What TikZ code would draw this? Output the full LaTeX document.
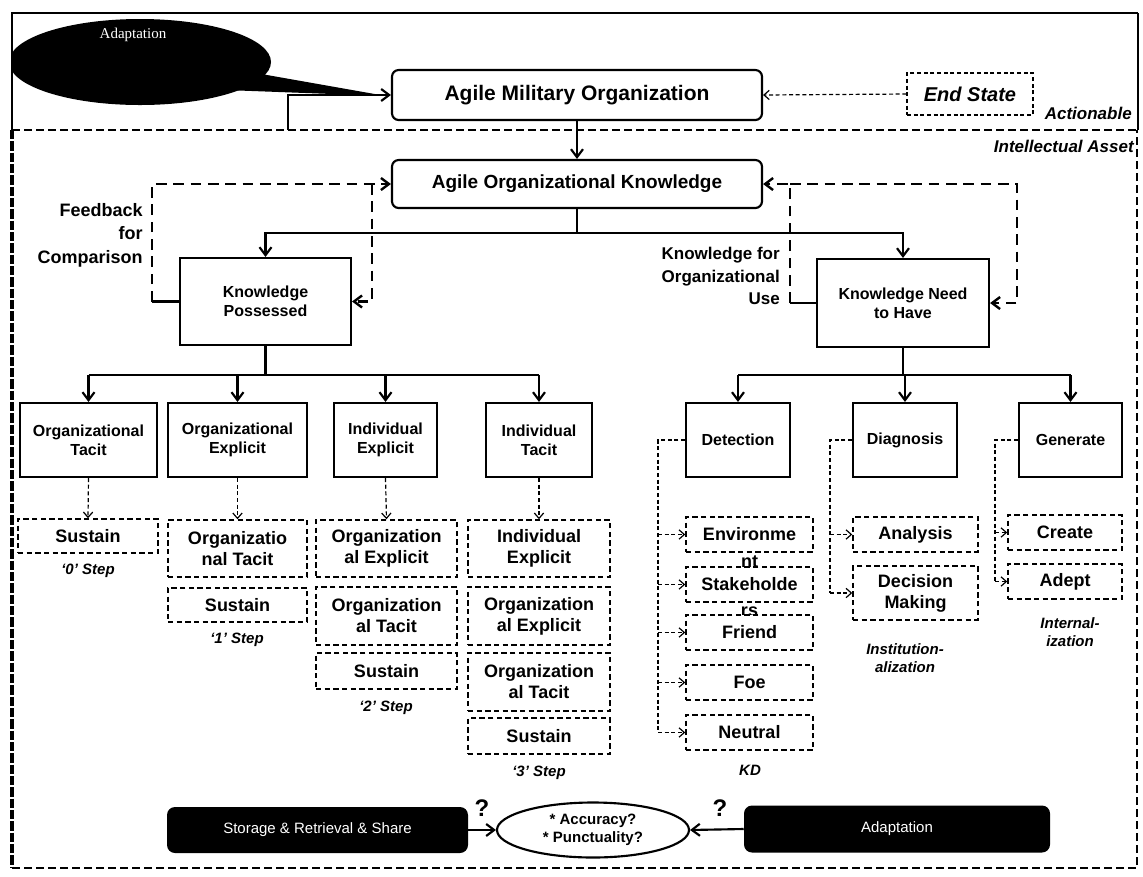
\documentclass[tikz,border=0pt]{standalone}
\usepackage{fontspec}
\setmainfont{Liberation Sans}
\newfontfamily\serifA{Liberation Serif}
\usetikzlibrary{arrows.meta,shapes.geometric,calc}
\newcommand{\fpx}[1]{\fontsize{\dimexpr #1pt*3/4\relax}{\dimexpr #1pt*7/8\relax}\selectfont}
\newcommand{\fpxb}[2]{\fontsize{\dimexpr #1pt*3/4\relax}{\dimexpr #2pt*3/4\relax}\selectfont}
\tikzset{
 wh/.style 2 args={minimum width=#1*0.75pt, minimum height=#2*0.75pt},
 sbox/.style={draw, line width=1.6pt, fill=white, align=center, inner sep=1pt, font=\fpx{16}\bfseries},
 rbox/.style={sbox, rounded corners=5pt, font=\fpx{19}\bfseries},
 dbox/.style={draw, line width=1.1pt, dash pattern=on 4pt off 2.5pt, fill=white, align=center, inner sep=1pt, font=\fpx{18}\bfseries},
 arr/.style={line width=1.6pt, -{Straight Barb[length=6pt,width=9pt]}},
 darr/.style={line width=0.9pt, dash pattern=on 3pt off 2pt, -{Straight Barb[length=4pt,width=7pt]}},
 dline/.style={line width=0.9pt, dash pattern=on 3pt off 2pt},
 dloop/.style={line width=1.8pt, dash pattern=on 8pt off 5pt},
 dloopa/.style={dloop, -{Straight Barb[length=6pt,width=9pt]}},
 steplbl/.style={font=\fpx{15}\bfseries\itshape, inner sep=0pt},
 sidelbl/.style={align=right, inner sep=0pt},
 blackbox/.style={fill=black, rounded corners=6pt, text=white, font=\fpx{15}},
}
\begin{document}
\begin{tikzpicture}[x=0.75pt,y=-0.75pt]
\useasboundingbox (0,0) rectangle (1143,876);
% ---------- frames ----------
\draw[line width=2pt] (12,130) -- (12,13) -- (1138,13);
\draw[line width=0.8pt] (1138,13) -- (1138,130);
\draw[line width=1.8pt, dash pattern=on 6pt off 3pt] (12,130) -- (1137,130);
\draw[line width=3pt, dash pattern=on 7pt off 1.5pt] (12,130) -- (12,868);
\draw[line width=1.8pt, dash pattern=on 6pt off 3pt] (12,868) -- (1137,868) -- (1137,130);
\node[anchor=east, font=\fpx{17}\bfseries\itshape, inner sep=0pt] (actl) at (1132,113) {Actionable};
\node[anchor=east, font=\fpx{17}\bfseries\itshape, inner sep=0pt] (intl) at (1134,146) {Intellectual Asset};
% ---------- callout ----------
\begin{scope}
\clip (12,13) rectangle (1138,130);
\node[ellipse, fill=black, wh={262}{86}] (adapt) at (140,62) {};
\end{scope}
\fill (250,72) -- (386,96) -- (225,90) -- cycle;
\node[text=white, font=\serifA\fpx{15}] (adapttxt) at (133,35) {Adaptation};
% ---------- top boxes ----------
\node[rbox, wh={370}{50}, font=\fpx{21}\bfseries] (amo) at (577,95) {Agile Military Organization};
\node[rbox, wh={370}{48}] (aok) at (577,184) {Agile Organizational Knowledge};
\node[draw, line width=0.9pt, dash pattern=on 3pt off 2pt, wh={126}{42}, font=\fpx{20}\bfseries\itshape] (es) at (970,94) {End State};
\coordinate (sep) at (288,130);
\draw[arr] (sep) |- (amo.west);
\draw[darr] (es.west) -- (amo.east);
\draw[arr] (amo.south) -- (aok.north);
% ---------- knowledge boxes ----------
\node[sbox, wh={171}{87}] (kp) at (265.5,301.5) {Knowledge\\Possessed};
\node[sbox, wh={172}{88}] (knh) at (903,303) {Knowledge Need\\to Have};
\coordinate (aokb) at (577,233);
\draw[line width=1.6pt] (aok.south) -- (aokb);
\draw[arr] (aokb) -| (kp.north);
\draw[arr] (aokb) -| (knh.north);
% feedback loops
\coordinate (fbl) at (152,301.5);
\coordinate (ltop) at (372,184);
\draw[line width=1.6pt] (kp.west) -- (fbl);
\draw[dloopa] (fbl) |- (aok.west);
\draw[dloopa] (ltop) |- (kp.east);
\coordinate (fbr) at (790,303);
\coordinate (rtop) at (1017,184);
\draw[line width=1.6pt] (knh.west) -- (fbr);
\draw[dloopa] (fbr) |- (aok.east);
\draw[dloopa] (fbr |- rtop) -- (rtop) |- (knh.east);
\node[sidelbl, anchor=east, font=\fpxb{18}{23.5}\bfseries] (fbtxt) at (143,235) {Feedback\\for\\Comparison};
\node[sidelbl, anchor=east, font=\fpxb{17}{22.5}\bfseries] (kutxt) at (780,276) {Knowledge for\\Organizational\\Use};
% ---------- row boxes ----------
\node[sbox, wh={137}{74}] (ot) at (88.5,440) {Organizational\\Tacit};
\node[sbox, wh={139}{74}] (oe) at (237.5,440) {Organizational\\Explicit};
\node[sbox, wh={103}{74}] (ie) at (385.5,440) {Individual\\Explicit};
\node[sbox, wh={106}{74}] (it) at (539,440) {Individual\\Tacit};
\node[sbox, wh={104}{74}] (det) at (738,440) {Detection};
\node[sbox, wh={104}{74}] (dia) at (905,440) {Diagnosis};
\node[sbox, wh={103}{74}] (gen) at (1070.5,440) {Generate};
\coordinate (kpb) at (265.5,375);
\draw[line width=1.6pt] (kp.south) -- (kpb);
\draw[line width=1.6pt] (kpb -| ot.north) -- (kpb -| it.north);
\foreach \n in {ot,oe,ie,it} \draw[arr] (kpb -| \n.north) -- (\n.north);
\coordinate (knhb) at (903,375);
\draw[line width=1.6pt] (knh.south) -- (knhb);
\draw[line width=1.6pt] (knhb -| det.north) -- (knhb -| gen.north);
\foreach \n in {det,dia,gen} \draw[arr] (knhb -| \n.north) -- (\n.north);
% ---------- dashed sub-boxes, knowledge possessed ----------
\node[dbox, wh={140}{34}] (s0) at (88,536) {Sustain};
\node[steplbl] (st0) at (88,571) {`0' Step};
\node[dbox, wh={139}{57}] (c2a) at (237.5,548.5) {Organizatio\\nal Tacit};
\node[dbox, wh={139}{34}] (s1) at (237.5,605) {Sustain};
\node[steplbl] (st1) at (237,640) {`1' Step};
\node[dbox, wh={141}{57}] (c3a) at (386.5,548.5) {Organization\\al Explicit};
\node[dbox, wh={141}{58}] (c3b) at (386.5,616) {Organization\\al Tacit};
\node[dbox, wh={141}{36}] (s2) at (386.5,671) {Sustain};
\node[steplbl] (st2) at (386,708) {`2' Step};
\node[dbox, wh={142}{57}] (c4a) at (539,548.5) {Individual\\Explicit};
\node[dbox, wh={142}{58}] (c4b) at (539,616) {Organization\\al Explicit};
\node[dbox, wh={142}{58}] (c4c) at (539,682) {Organization\\al Tacit};
\node[dbox, wh={142}{36}] (s3) at (539,736) {Sustain};
\node[steplbl] (st3) at (539,773) {`3' Step};
\draw[darr] (ot.south) -- (s0.north);
\draw[darr] (oe.south) -- (c2a.north);
\draw[darr] (ie.south) -- (c3a.north);
\draw[darr] (it.south) -- (c4a.north);
% ---------- detection ----------
\node[dbox, wh={127}{35}] (env) at (749.5,534.5) {Environme};
\node[font=\fpx{18}\bfseries, inner sep=0pt] (envnt) at (749.5,562) {nt};
\node[dbox, wh={127}{35}] (stk) at (749.5,584.5) {Stakeholde};
\node[font=\fpx{18}\bfseries, inner sep=0pt] (stkrs) at (749.5,612) {rs};
\node[dbox, wh={127}{35}] (fri) at (749.5,632.5) {Friend};
\node[dbox, wh={127}{35}] (foe) at (749.5,682.5) {Foe};
\node[dbox, wh={127}{35}] (neu) at (749.5,732.5) {Neutral};
\node[steplbl] (kd) at (750,770) {KD};
\coordinate (dl) at (658,440);
\draw[dline] (det.west) -- (dl) -- (dl |- neu.west);
\foreach \n in {env,stk,fri,foe,neu} \draw[darr] (dl |- \n.west) -- (\n.west);
% ---------- diagnosis ----------
\node[dbox, wh={125}{35}] (ana) at (915.5,534.5) {Analysis};
\node[dbox, wh={125}{54}] (dec) at (915.5,593) {Decision\\Making};
\node[steplbl, align=center] (inst) at (905,658) {Institution-\\alization};
\coordinate (gl) at (830,440);
\draw[dline] (dia.west) -- (gl) -- (gl |- dec.west);
\foreach \n in {ana,dec} \draw[darr] (gl |- \n.west) -- (\n.west);
% ---------- generate ----------
\node[dbox, wh={114}{35}] (cre) at (1065,532.5) {Create};
\node[dbox, wh={114}{35}] (ade) at (1065,581.5) {Adept};
\node[steplbl, align=center] (intz) at (1070,632) {Internal-\\ization};
\coordinate (ql) at (995,440);
\draw[dline] (gen.west) -- (ql) -- (ql |- ade.west);
\foreach \n in {cre,ade} \draw[darr] (ql |- \n.west) -- (\n.west);
% ---------- bottom ----------
\node[blackbox, wh={301}{46}] (sto) at (317.5,830) {Storage \& Retrieval \& Share};
\node[ellipse, draw, line width=1.6pt, wh={192}{55}, align=center, font=\fpx{15}\bfseries, inner sep=0pt] (acc) at (593,830) {* Accuracy?\\* Punctuality?};
\node[blackbox, wh={306}{47}] (ad2) at (897,829) {Adaptation};
\draw[arr] (sto.east) -- (acc.west);
\draw[arr] (ad2.west) -- (acc.east);
\node[font=\fpx{24}\bfseries, inner sep=0pt] (q1) at (482,808) {?};
\node[font=\fpx{24}\bfseries, inner sep=0pt] (q2) at (720,808) {?};
\end{tikzpicture}
\end{document}
